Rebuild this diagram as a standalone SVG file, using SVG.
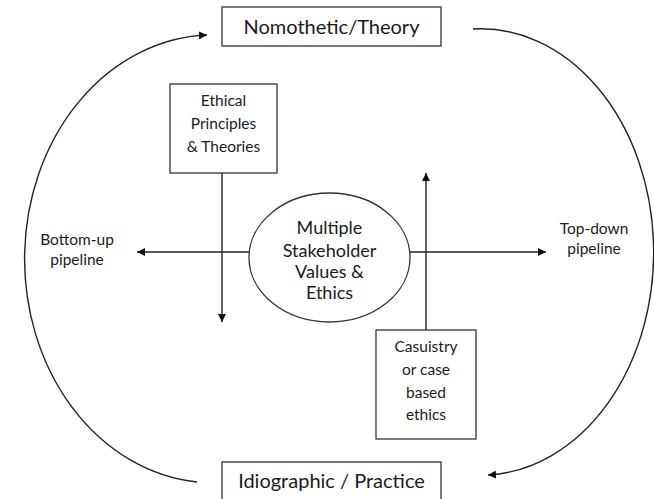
<svg xmlns="http://www.w3.org/2000/svg" width="654" height="499" viewBox="0 0 654 499">
<style>
  .box { fill: #fff; stroke: #333; stroke-width: 1.3; }
  .line { fill: none; stroke: #222; stroke-width: 1.4; }
  text { font-family: Lato, "Liberation Sans", sans-serif; fill: #1a1a1a; text-anchor: middle; }
  .big { font-size: 20px; }
  .mid { font-size: 18px; }
  .sm { font-size: 15.5px; }
  .lbl { font-size: 15.5px; }
</style>
<defs>
  <marker id="ah" viewBox="0 0 10 10" refX="10" refY="5" markerWidth="8" markerHeight="8" markerUnits="userSpaceOnUse" orient="auto">
    <path d="M0,0 L10,5 L0,10 Z" fill="#111"/>
  </marker>
</defs>
<rect width="654" height="499" fill="#fff"/>
<g id="connectors">
  <path class="line" d="M197,482 A189 224 0 0 1 207,35" marker-end="url(#ah)"/>
  <path class="line" d="M473,29 A173 223 0 0 1 488,475" marker-end="url(#ah)"/>
  <line class="line" x1="249" y1="252" x2="137" y2="252" marker-end="url(#ah)"/>
  <line class="line" x1="410" y1="252" x2="546" y2="252" marker-end="url(#ah)"/>
  <line class="line" x1="222" y1="173" x2="222" y2="322" marker-end="url(#ah)"/>
  <line class="line" x1="426" y1="330" x2="426" y2="173" marker-end="url(#ah)"/>
</g>
<g id="theory">
  <rect class="box" x="222" y="7" width="219" height="39"/>
  <text class="big" x="331.5" y="34">Nomothetic/Theory</text>
</g>
<g id="practice">
  <rect class="box" x="222" y="462" width="219" height="50"/>
  <text class="big" x="331.5" y="488">Idiographic / Practice</text>
</g>
<g id="ethical">
  <rect class="box" x="170" y="84" width="107" height="89"/>
  <text class="sm" x="223.5" y="106">Ethical</text>
  <text class="sm" x="223.5" y="129">Principles</text>
  <text class="sm" x="223.5" y="152">&amp; Theories</text>
</g>
<g id="stakeholder">
  <ellipse class="box" cx="329.5" cy="257.5" rx="80.5" ry="64.5"/>
  <text class="mid" x="329.5" y="234">Multiple</text>
  <text class="mid" x="329.5" y="257">Stakeholder</text>
  <text class="mid" x="329.5" y="278">Values &amp;</text>
  <text class="mid" x="329.5" y="299">Ethics</text>
</g>
<g id="casuistry">
  <rect class="box" x="376" y="330" width="100" height="109"/>
  <text class="sm" x="426" y="352">Casuistry</text>
  <text class="sm" x="426" y="375">or case</text>
  <text class="sm" x="426" y="398">based</text>
  <text class="sm" x="426" y="420">ethics</text>
</g>
<g id="bottomup">
  <text class="lbl" x="77" y="245">Bottom-up</text>
  <text class="lbl" x="77" y="265">pipeline</text>
</g>
<g id="topdown">
  <text class="lbl" x="594" y="234">Top-down</text>
  <text class="lbl" x="594" y="254">pipeline</text>
</g>
</svg>
